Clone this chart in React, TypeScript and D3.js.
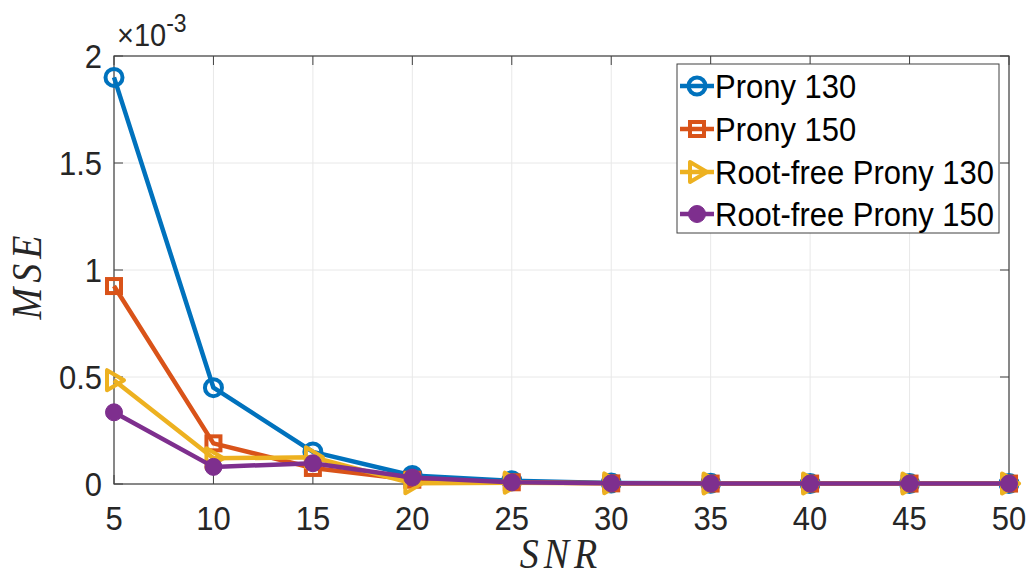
import React from "react";
import * as d3 from "d3";

const snr = [5, 10, 15, 20, 25, 30, 35, 40, 45, 50];
const prony130 = [1.9, 0.45, 0.15, 0.04, 0.015, 0.005, 0.003, 0.002, 0.002, 0.002];
const prony150 = [0.925, 0.19, 0.075, 0.02, 0.008, 0.003, 0.002, 0.002, 0.002, 0.002];
const rootfree130 = [0.485, 0.12, 0.125, 0.003, 0.006, 0.003, 0.002, 0.002, 0.002, 0.002];
const rootfree150 = [0.335, 0.08, 0.097, 0.03, 0.008, 0.003, 0.002, 0.002, 0.002, 0.002];
const seriesNames = ["Prony 130", "Prony 150", "Root-free Prony 130", "Root-free Prony 150"];
const xTicks = [5, 10, 15, 20, 25, 30, 35, 40, 45, 50];
const yTicks = [0, 0.5, 1, 1.5, 2];
const yTickLabels = ["0", "0.5", "1", "1.5", "2"];

const colors = ["#0072BD", "#D95319", "#EDB120", "#7E2F8E"];
const markers = ["circle", "square", "triangle", "dot"];

function Marker({ type, x, y, color }: { type: string; x: number; y: number; color: string }) {
  if (type === "circle")
    return <circle cx={x} cy={y} r={8.5} fill="none" stroke={color} strokeWidth={4} />;
  if (type === "square")
    return <rect x={x - 7} y={y - 7} width={14} height={14} fill="none" stroke={color} strokeWidth={4} />;
  if (type === "triangle")
    return (
      <path
        d={`M${x + 10},${y} L${x - 7},${y - 10} L${x - 7},${y + 10} Z`}
        fill="none"
        stroke={color}
        strokeWidth={4}
        strokeLinejoin="round"
      />
    );
  return <circle cx={x} cy={y} r={8.5} fill={color} stroke={color} strokeWidth={1} />;
}

const sans = "'Liberation Sans', Arial, Helvetica, sans-serif";
const serif = "'Liberation Serif', 'DejaVu Serif', serif";

function T({ x, y, size, anchor, children, fill, family, italic, ls, rot }: any) {
  return (
    <text
      transform={`translate(${x},${y}) ${rot ? "rotate(-90)" : ""} scale(1,1.1)`}
      textAnchor={anchor || "start"}
      fontSize={size}
      fontFamily={family || sans}
      fontStyle={italic ? "italic" : "normal"}
      letterSpacing={ls || 0}
      fill={fill || "#262626"}
    >
      {children}
    </text>
  );
}

export default function App() {
  const W = 1029, H = 581;
  const left = 114, right = 1009, top = 56, bottom = 484;
  const x = d3.scaleLinear().domain([5, 50]).range([left, right]);
  const y = d3.scaleLinear().domain([0, 2]).range([bottom, top]);
  const data = [prony130, prony150, rootfree130, rootfree150];
  const line = d3
    .line<number>()
    .x((_, i) => x(snr[i]))
    .y((d) => y(d));
  const legendY = [86, 129, 172, 214];
  return (
    <svg width={W} height={H} style={{ position: "absolute", left: 0, top: 0 }}>
      <rect x={0} y={0} width={W} height={H} fill="white" />
      {xTicks.map((t) => (
        <line key={"gx" + t} x1={x(t)} x2={x(t)} y1={top} y2={bottom} stroke="#e8e8e8" strokeWidth={1} />
      ))}
      {yTicks.map((t) => (
        <line key={"gy" + t} x1={left} x2={right} y1={y(t)} y2={y(t)} stroke="#e8e8e8" strokeWidth={1} />
      ))}
      <rect x={left} y={top} width={right - left} height={bottom - top} fill="none" stroke="#404040" strokeWidth={1.2} />
      {xTicks.map((t) => (
        <g key={"tx" + t}>
          <line x1={x(t)} x2={x(t)} y1={bottom} y2={bottom - 9} stroke="#404040" />
          <line x1={x(t)} x2={x(t)} y1={top} y2={top + 9} stroke="#404040" />
          <T x={x(t)} y={bottom + 46} size={31} anchor="middle">{t}</T>
        </g>
      ))}
      {yTicks.map((t, i) => (
        <g key={"ty" + t}>
          <line x1={left} x2={left + 9} y1={y(t)} y2={y(t)} stroke="#404040" />
          <line x1={right} x2={right - 9} y1={y(t)} y2={y(t)} stroke="#404040" />
          <T x={left - 12} y={y(t) + 12} size={31} anchor="end">{yTickLabels[i]}</T>
        </g>
      ))}
      <text transform="translate(117,46) scale(1,1.1)" fontSize={29} fontFamily={sans} fill="#262626">
        ×10
        <tspan dy={-13} fontSize={23}>-3</tspan>
      </text>
      {data.map((s, k) => (
        <g key={"s" + k}>
          <path d={line(s) || ""} fill="none" stroke={colors[k]} strokeWidth={4.5} strokeLinejoin="round" />
          {s.map((v, i) => (
            <Marker key={i} type={markers[k]} x={x(snr[i])} y={y(v)} color={colors[k]} />
          ))}
        </g>
      ))}
      <T x={561} y={568} size={38} anchor="middle" family={serif} italic ls={5}>SNR</T>
      <T x={41} y={275} size={38} anchor="middle" family={serif} italic ls={5} rot>MSE</T>
      <rect x={677} y={64} width={322} height={169} fill="white" stroke="#404040" strokeWidth={1} />
      {seriesNames.map((n, k) => (
        <g key={"l" + k}>
          <line x1={680} x2={714} y1={legendY[k]} y2={legendY[k]} stroke={colors[k]} strokeWidth={4.5} />
          <Marker type={markers[k]} x={697} y={legendY[k]} color={colors[k]} />
          <T x={715} y={legendY[k] + 12} size={31} fill="#000">{n}</T>
        </g>
      ))}
    </svg>
  );
}
